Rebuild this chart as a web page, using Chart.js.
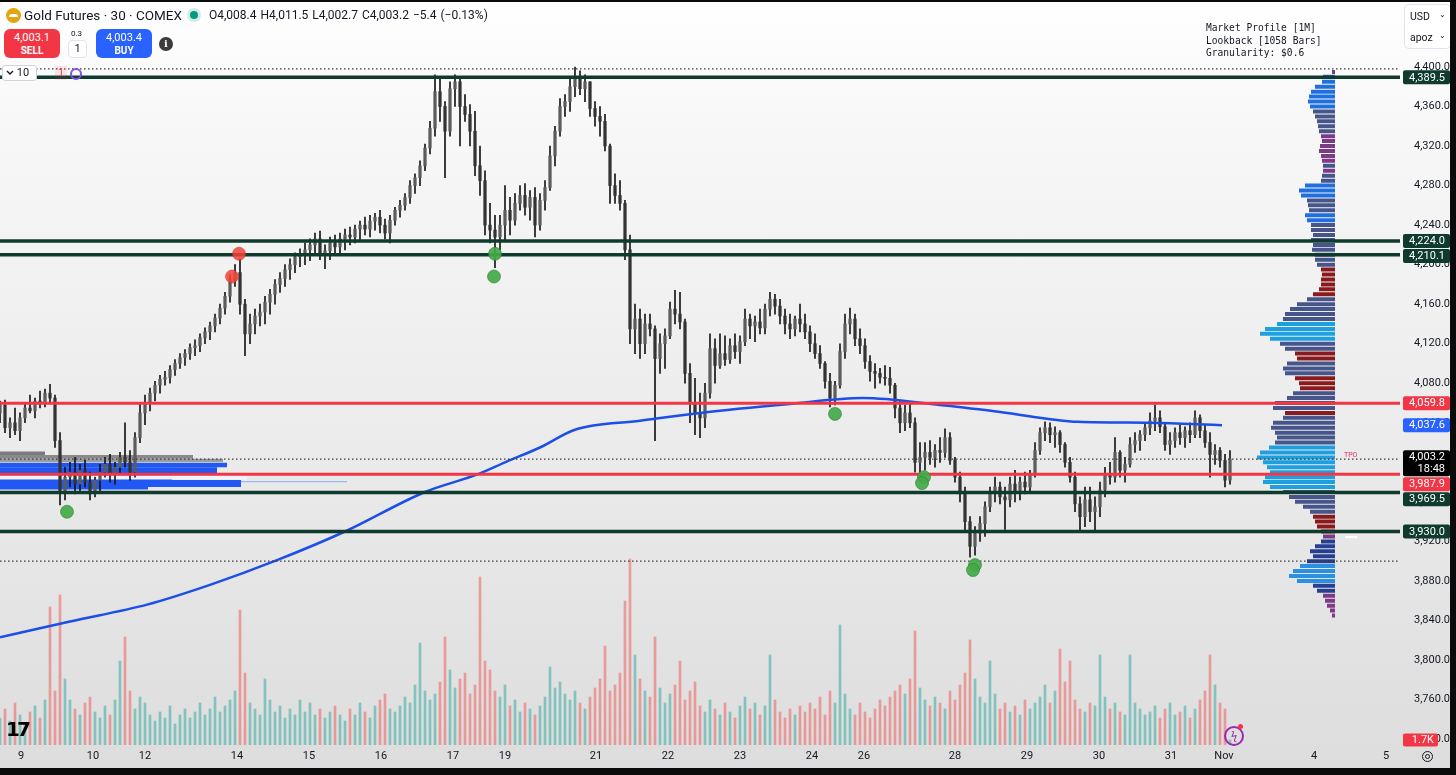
<!DOCTYPE html>
<html>
<head>
<meta charset="utf-8">
<title>Gold Futures · 30 · COMEX</title>
<script src="https://cdn.jsdelivr.net/npm/chart.js@4.4.1/dist/chart.umd.min.js"></script>
<style>
html,body{margin:0;padding:0;width:1456px;height:775px;overflow:hidden;background:#0b0b0b;font-family:Roboto,"Noto Sans",Arial,sans-serif;color:#131722;}
#wrap{position:absolute;left:0;top:2px;width:1450px;height:766px;overflow:hidden;background:linear-gradient(180deg,#ffffff 0%,#f8f8f8 15%,#ececec 55%,#dddddd 100%);}
#chart{position:absolute;left:0;top:0;}
.a{position:absolute;white-space:nowrap;}
.btn{position:absolute;top:27px;width:56px;height:29px;border-radius:6px;color:#fff;text-align:center;font-size:11px;line-height:13px;padding-top:2px;box-sizing:border-box;}
.btn b{display:block;font-size:10px;font-weight:700;}
</style>
</head>
<body>
<div id="wrap">
<canvas id="chart" width="1450" height="766"></canvas>

<div class="a" style="left:6px;top:6px;width:15px;height:15px;border-radius:50%;background:#e3a512;"><div style="position:absolute;left:3px;top:6px;width:9px;height:3px;background:#fff;border-radius:3px 3px 0 0;"></div></div>
<div class="a" style="left:24px;top:5px;font-size:13.5px;">Gold Futures · 30 · COMEX</div>
<div class="a" style="left:190px;top:9px;width:8px;height:8px;border-radius:50%;background:#089981;box-shadow:0 0 0 3px rgba(8,153,129,0.18);"></div>
<div class="a" style="left:209px;top:6px;font-size:12px;word-spacing:1px;">O4,008.4 H4,011.5 L4,002.7 C4,003.2 −5.4 (−0.13%)</div>

<div class="btn" style="left:4px;background:#f23645;">4,003.1<b>SELL</b></div>
<div class="a" style="left:71px;top:27px;font-size:8px;">0.3</div>
<div class="a" style="left:68px;top:38px;width:19px;height:18px;border:1px solid #e0e3eb;border-radius:4px;box-sizing:border-box;font-size:11px;text-align:center;line-height:16px;background:#fff;">1</div>
<div class="btn" style="left:96px;background:#2962ff;">4,003.4<b>BUY</b></div>
<div class="a" style="left:159px;top:35px;width:14px;height:14px;border-radius:50%;background:#3b3b3b;color:#fff;font:bold 10px 'DejaVu Serif',serif;text-align:center;line-height:14px;">i</div>

<div class="a" style="left:2px;top:63px;width:35px;height:16px;background:#fff;border:1px solid #d1d4dc;border-radius:3px;box-sizing:border-box;font-size:11px;line-height:14px;padding-left:3px;"><svg width="8" height="6" style="vertical-align:middle"><path d="M1 1 L4 4 L7 1" stroke="#131722" stroke-width="1.4" fill="none"/></svg> 10</div>
<div class="a" style="left:55px;top:64px;width:12px;height:14px;background:rgba(242,54,69,0.12);color:#f23645;font-size:10px;text-align:center;line-height:14px;">1</div>
<div class="a" style="left:70px;top:66px;width:8px;height:8px;border:2px solid #7b52e8;border-radius:50%;"></div>

<div class="a" style="left:1206px;top:20px;font:9.6px 'DejaVu Sans Mono',monospace;line-height:12.5px;white-space:pre;">Market Profile [1M]
Lookback [1058 Bars]
Granularity: $0.6</div>
<div class="a" style="left:1405px;top:3px;width:45px;height:43px;background:#fff;border-radius:4px;box-shadow:0 0 0 1px #e0e3eb;font-size:10.5px;">
  <div class="a" style="left:5px;top:5px;">USD</div><div class="a" style="left:34px;top:5px;font-size:8px;">⌄</div>
  <div class="a" style="left:5px;top:26px;">apoz</div><div class="a" style="left:34px;top:26px;font-size:8px;">⌄</div>
</div>

<div class="a" style="left:1344px;top:449px;font-size:7px;color:#e91e63;">TPO</div>
<div class="a" style="left:1345px;top:534px;width:12px;height:2px;background:#fff;"></div>

<div class="a" style="left:6px;top:715px;font:900 20px 'DejaVu Sans',sans-serif;letter-spacing:-3px;color:#000;">17</div>
<div class="a" style="left:1224px;top:724px;width:16px;height:16px;border:2px solid #9c27b0;border-radius:50%;color:#9c27b0;font-size:11px;text-align:center;line-height:16px;">ϟ</div>
<div class="a" style="left:1238px;top:722px;width:5px;height:5px;border-radius:50%;background:#f23645;"></div>
<div class="a" style="left:1422px;top:749px;width:9px;height:9px;border:1.6px solid #131722;border-radius:50%;"></div>
<div class="a" style="left:1425px;top:752px;width:3px;height:3px;border:1.4px solid #131722;border-radius:50%;"></div>
</div>

<script>
// ---------- DATA ----------
const xTickPos = [4.2, 18.6, 29, 47.4, 61.8, 76.2, 90.6, 101, 119.2, 133.6, 148, 162.4, 172.8, 191, 205.4, 219.8, 234.2, 244.8, 262.8, 277.2];
const xTickLabels = ['9','10','12','14','15','16','17','19','21','22','23','24','26','28','29','30','31','Nov','4','5'];
const yTickValues = [3720,3760,3800,3840,3880,3920,3960,4000,4040,4080,4120,4160,4200,4240,4280,4320,4360,4400];

const opens = [4050,
4058,4035,4040,4032,4045,4055,4052,4062,4060,4070,
4065,4022,3970,3985,3990,3978,3992,3980,3968,3982,
3990,3998,3988,3995,4005,4000,3990,4025,4050,4060,
4070,4078,4084,4086,4094,4100,4106,4110,4116,4118,
4126,4132,4138,4146,4156,4168,4185,4192,4160,4130,
4140,4148,4152,4162,4170,4180,4186,4195,4200,4208,
4210,4215,4220,4226,4210,4214,4222,4218,4226,4230,
4228,4236,4240,4236,4244,4248,4240,4232,4245,4255,
4260,4268,4280,4288,4300,4318,4338,4375,4360,4335,
4378,4385,4360,4352,4335,4300,4285,4240,4235,4228,
4240,4255,4245,4262,4270,4258,4268,4240,4265,4278,
4310,4335,4360,4365,4380,4390,4378,4385,4358,4350,
4345,4320,4280,4270,4262,4215,4135,4145,4120,4140,
4135,4105,4120,4128,4155,4150,4142,4090,4060,4050,
4045,4070,4115,4098,4110,4104,4118,4112,4122,4145,
4138,4142,4136,4155,4165,4158,4148,4140,4135,4145,
4140,4132,4120,4110,4100,4082,4065,4078,4112,4140,
4145,4125,4118,4102,4092,4090,4086,4085,4078,4055,
4040,4050,4040,4000,4005,4010,4005,4012,4010,4025,
4002,3985,3968,3940,3915,3928,3938,3955,3968,3975,
3965,3962,3978,3970,3980,3975,3988,4012,4030,4035,
4028,4030,4018,4000,3985,3958,3945,3962,3950,3955,
3972,3988,3985,4010,3992,3998,4018,4022,4028,4035,
4042,4045,4036,4018,4022,4030,4025,4032,4028,4045,
4032,4020,4008,4012,4002,3982];

const highs = [4062,4063,4045,4055,4050,4060,4068,4065,4072,4074,
4079,4068,4030,3995,4000,4005,3998,4002,3990,3985,
3998,4005,4008,4000,4010,4040,4012,4030,4060,4068,
4075,4082,4088,4092,4098,4104,4110,4114,4120,4124,
4130,4136,4142,4150,4160,4172,4190,4200,4206,4165,
4150,4155,4160,4168,4175,4185,4192,4200,4206,4212,
4216,4222,4226,4232,4234,4220,4228,4230,4232,4236,
4238,4240,4244,4248,4250,4252,4255,4246,4250,4258,
4265,4272,4285,4292,4305,4322,4345,4392,4390,4365,
4385,4392,4390,4372,4362,4355,4320,4295,4262,4250,
4250,4280,4268,4272,4280,4282,4275,4278,4272,4285,
4320,4340,4368,4372,4388,4400,4396,4392,4385,4365,
4360,4352,4322,4292,4285,4265,4230,4160,4155,4150,
4150,4138,4130,4135,4162,4174,4172,4145,4100,4085,
4070,4080,4130,4125,4130,4128,4125,4130,4128,4155,
4150,4148,4155,4160,4172,4170,4165,4155,4150,4148,
4160,4150,4138,4130,4118,4102,4090,4082,4120,4150,
4156,4150,4135,4125,4108,4100,4095,4098,4096,4080,
4062,4058,4060,4045,4020,4020,4022,4018,4025,4034,
4030,4005,3990,3975,3945,3935,3945,3960,3975,3985,
3980,3975,3985,3992,3985,3990,3992,4020,4035,4041,
4040,4036,4032,4020,4005,3990,3965,3975,3975,3965,
3980,3995,4000,4025,4012,4005,4025,4030,4032,4040,
4050,4058,4052,4040,4030,4035,4038,4036,4040,4052,
4048,4038,4030,4018,4015,4008,4012];

const lows = [4040,4030,4025,4028,4022,4040,4050,4045,4055,4056,
4060,4015,3957,3962,3975,3968,3970,3975,3962,3965,
3970,3985,3980,3978,3988,3995,3982,3985,4020,4038,
4052,4062,4070,4078,4080,4088,4095,4098,4104,4108,
4112,4120,4124,4132,4140,4150,4162,4178,4150,4108,
4120,4130,4138,4140,4150,4160,4172,4178,4185,4192,
4198,4200,4204,4210,4205,4196,4205,4210,4212,4215,
4220,4222,4225,4230,4228,4235,4232,4226,4222,4240,
4248,4255,4262,4272,4280,4295,4312,4330,4345,4288,
4330,4360,4320,4345,4320,4290,4270,4230,4222,4197,
4215,4225,4230,4240,4255,4250,4245,4228,4235,4255,
4275,4300,4330,4350,4355,4370,4372,4365,4350,4340,
4330,4315,4262,4262,4255,4205,4120,4110,4105,4110,
4128,4022,4090,4095,4125,4140,4135,4080,4040,4028,
4025,4035,4065,4080,4095,4098,4100,4105,4100,4118,
4125,4122,4130,4130,4148,4150,4140,4130,4125,4128,
4132,4125,4112,4105,4095,4075,4056,4058,4075,4105,
4130,4118,4110,4095,4082,4075,4080,4078,4070,4045,
4030,4032,4035,3990,3985,3992,3998,3995,4000,4005,
3998,3980,3960,3930,3904,3906,3920,3925,3950,3960,
3958,3932,3955,3960,3962,3968,3970,3985,4008,4022,
4020,4015,4010,3995,3980,3950,3930,3935,3940,3930,
3945,3965,3978,3980,3985,3980,3995,4010,4012,4022,
4028,4032,4030,4012,4008,4015,4018,4015,4020,4025,
4025,4015,3985,3998,3995,3975,3978];

const closes = [4058,4035,4040,4032,4045,4055,4052,4062,4060,4070,
4065,4022,3970,3985,3990,3978,3992,3980,3968,3982,
3990,3998,3988,3995,4005,4000,3990,4025,4050,4060,
4070,4078,4084,4086,4094,4100,4106,4110,4116,4118,
4126,4132,4138,4146,4156,4168,4185,4192,4160,4130,
4140,4148,4152,4162,4170,4180,4186,4195,4200,4208,
4210,4215,4220,4226,4210,4214,4222,4218,4226,4230,
4228,4236,4240,4236,4244,4248,4240,4232,4245,4255,
4260,4268,4280,4288,4300,4318,4338,4375,4360,4335,
4378,4385,4360,4352,4335,4300,4285,4240,4235,4228,
4240,4255,4245,4262,4270,4258,4268,4240,4265,4278,
4310,4335,4360,4365,4380,4390,4378,4385,4358,4350,
4345,4320,4280,4270,4262,4215,4135,4145,4120,4140,
4135,4105,4120,4128,4155,4150,4142,4090,4060,4050,
4045,4070,4115,4098,4110,4104,4118,4112,4122,4145,
4138,4142,4136,4155,4165,4158,4148,4140,4135,4145,
4140,4132,4120,4110,4100,4082,4065,4078,4112,4140,
4145,4125,4118,4102,4092,4090,4086,4085,4078,4055,
4040,4050,4040,4000,4005,4010,4005,4012,4010,4025,
4002,3985,3968,3940,3915,3928,3938,3955,3968,3975,
3965,3962,3978,3970,3980,3975,3988,4012,4030,4035,
4028,4030,4018,4000,3985,3958,3945,3962,3950,3955,
3972,3988,3985,4010,3992,3998,4018,4022,4028,4035,
4042,4045,4036,4018,4022,4030,4025,4032,4028,4045,
4032,4020,4008,4012,4002,3982,4003.2];

// volume in thousands
const volumes = [9,12,8,14,10,7,11,13,9,15,
46,18,50,22,15,12,10,14,16,11,
9,13,10,15,28,36,18,12,16,14,
10,8,11,9,13,7,10,12,9,11,
14,10,12,16,11,13,15,18,45,24,
14,12,10,22,15,11,13,9,12,10,
15,11,14,10,12,9,11,13,10,8,
12,10,14,11,9,13,15,17,12,11,
13,16,14,20,34,18,15,17,21,36,
25,19,22,24,17,20,56,28,25,18,
16,20,13,15,11,14,12,10,13,16,
26,19,21,17,15,18,14,12,16,19,
22,33,18,20,24,48,62,30,22,18,
16,36,19,14,17,20,28,15,18,21,
13,11,15,12,10,14,11,9,13,16,
12,14,10,13,30,15,11,9,12,10,
13,11,14,12,16,10,18,14,40,17,
12,10,14,11,9,12,15,13,16,18,
20,17,22,38,19,15,13,16,14,12,
18,15,20,24,35,22,16,14,28,17,
12,14,11,13,10,15,12,14,16,20,
14,18,32,21,28,15,12,11,14,13,
30,16,12,14,11,10,30,14,12,10,
11,13,9,12,14,10,11,13,9,12,
15,18,30,20,14,12,1.7];

// anchored VWAP (bar position, price)
const vwapX = [0, 14, 29.4, 42, 55.4, 69, 85, 95.6, 101, 108, 115, 128, 140, 158, 172.6, 188, 200, 215.6, 230, 244.4];
const vwapY = [3823, 3839, 3856, 3876, 3901, 3930, 3970, 3988, 4000, 4015, 4033, 4042, 4050, 4059, 4065, 4058, 4051, 4041, 4040, 4037.6];

// horizontal levels
const greenLevels = [4389.5, 4224.0, 4210.1, 3969.5, 3930.0];
const redLevels = [4059.8, 3987.9];
const dottedLevels = [4398, 4003.2, 3900];

// signal dots
const greenDotX = [13.4, 99, 98.8, 167, 184.8, 184.4, 195, 194.6];
const greenDotY = [3950, 4211, 4188, 4049, 3985, 3979, 3896, 3891];
const redDotX = [46.4, 47.8];
const redDotY = [4188, 4211];

// market profile (right): price rows, TPO counts, colour keys
const profilePrices = [4395,4390,4385,4380,4375,4370,4365,4360,4355,4350,
4345,4340,4335,4330,4325,4320,4315,4310,4305,4300,
4295,4290,4285,4280,4275,4270,4265,4260,4255,4250,
4245,4240,4235,4230,4225,4220,4215,4210,4205,4200,
4195,4190,4185,4180,4175,4170,4165,4160,4155,4150,
4145,4140,4135,4130,4125,4120,4115,4110,4105,4100,
4095,4090,4085,4080,4075,4070,4065,4060,4055,4050,
4045,4040,4035,4030,4025,4020,4015,4010,4005,4000,
3995,3990,3985,3980,3975,3970,3965,3960,3955,3950,
3945,3940,3935,3930,3925,3920,3915,3910,3905,3900,
3895,3890,3885,3880,3875,3870,3865,3860,3855,3850,
3845];
const profileCounts = [3,12,13,20,24,26,27,25,22,20,
18,17,16,14,13,15,16,14,13,12,
12,13,14,30,36,34,28,27,26,30,
28,24,24,22,24,22,23,20,20,18,
14,13,14,14,16,22,28,38,45,50,
52,58,70,75,65,55,50,40,38,48,
52,50,40,36,35,42,48,60,62,50,
52,62,64,60,58,60,66,75,78,72,
68,65,70,72,65,52,46,40,32,25,
22,20,18,14,12,14,20,25,22,28,
35,42,46,38,22,18,12,10,8,5,
3];
const profileKeys = "PBBBBBBBSSSSSPPPPPPSPSSBBBSSSBBSSSSSSSSSRRRRRRSSSSSTTTTSSRRSSSRRRSSSSRSSSSSSTTTTTTTTTSSSSSRRRRPDDDDDLLLLDDPPPPP";

// visible-range volume profile (left): band top, band bottom, extent (bars)
const lpTop    = [4011, 4007.5, 4003.5, 3986.5, 3999.5, 3995, 3986.5, 3982, 3981.2, 3975];
const lpBottom = [4007.5, 4003.5, 4000.3, 3982.5, 3995, 3989, 3982, 3975, 3979.8, 3972.5];
const lpExtent = [9, 38.6, 44.6, 49.4, 45.4, 43.4, 34.4, 48.2, 69.4, 29.6];
const lpKeys   = ['g1','g2','g3','w','b','b','b','b','lb','b'];

// price-axis labels
const boxValues = [4389.5, 4224.0, 4210.1, 4059.8, 4037.6, 4003.2, 3987.9, 3969.5, 3930.0];
const boxKeys   = ['g','g','g','r','bl','k','r','g','g'];
const boxSub    = ['','','','','','18:48','','',''];
const lastVolume = 1.7;

// ---------- STYLE ----------
const profileColors = {B:'#1f6fe0', S:'#46568a', T:'#1e9fdf', R:'#8b1a1e', P:'#7d3a86', D:'#263f90', L:'#2b8fe2'};
const lpColors = {g1:'#7b7b7b', g2:'#8a8a8a', g3:'#9c9c9c', w:'#f1f4fc', b:'#2157f2', lb:'#9db6f4'};
const boxColors = {g:'#0e3b2e', r:'#f23645', bl:'#2962ff', k:'#000000'};
const PROFILE_RIGHT = 267, PROFILE_SCALE = 0.2;

const fmt = v => Number(v).toLocaleString('en-US', {minimumFractionDigits:1, maximumFractionDigits:1});

// ---------- DATASETS ----------
const idx = closes.map((_, i) => i);
const volColors = idx.map(i => closes[i] >= opens[i] ? 'rgba(38,166,154,0.5)' : 'rgba(239,83,80,0.5)');

const datasets = [];

datasets.push({type:'bar', label:'Volume', yAxisID:'yv', order:9, grouped:false, barThickness:2,
  data: idx.map(i => ({x:i, y:volumes[i]})), backgroundColor: volColors});

datasets.push({type:'bar', label:'Wicks', yAxisID:'y', order:4, grouped:false, barThickness:1,
  data: idx.map(i => ({x:i, y:[lows[i], highs[i]]})), backgroundColor:'#161616'});
datasets.push({type:'bar', label:'Bodies', yAxisID:'y', order:3, grouped:false, barThickness:2.6, minBarLength:1,
  data: idx.map(i => ({x:i, y:[opens[i], closes[i]]})), backgroundColor: idx.map(i => closes[i] >= opens[i] ? '#5c5c5c' : '#333333')});

// right market profile, grouped by colour
Object.keys(profileColors).forEach(k => {
  const pts = [];
  profilePrices.forEach((p, r) => {
    if (profileKeys[r] !== k) return;
    pts.push({x: PROFILE_RIGHT - profileCounts[r] * PROFILE_SCALE, y: p});
    pts.push({x: PROFILE_RIGHT, y: p});
    pts.push({x: PROFILE_RIGHT, y: null});
  });
  datasets.push({type:'line', yAxisID:'y', order:6, data:pts, borderColor:profileColors[k], borderWidth:4,
    borderCapStyle:'butt', pointRadius:0, spanGaps:false, fill:false});
});

// left volume profile bands
lpTop.forEach((t, i) => {
  const b = lpBottom[i], e = lpExtent[i];
  datasets.push({type:'line', yAxisID:'y', order:7,
    data:[{x:0,y:t},{x:e,y:t},{x:e,y:b},{x:0,y:b}],
    borderWidth:0, pointRadius:0, fill:'shape', backgroundColor:lpColors[lpKeys[i]], borderColor:'rgba(0,0,0,0)'});
});

// level lines
greenLevels.forEach(v => datasets.push({type:'line', yAxisID:'y', order:1, data:[{x:0,y:v},{x:280,y:v}],
  borderColor:'#0e3b2e', borderWidth:3.5, pointRadius:0}));
redLevels.forEach(v => datasets.push({type:'line', yAxisID:'y', order:1, data:[{x:0,y:v},{x:280,y:v}],
  borderColor:'#f23645', borderWidth:3, pointRadius:0}));
dottedLevels.forEach(v => datasets.push({type:'line', yAxisID:'y', order:2, data:[{x:0,y:v},{x:280,y:v}],
  borderColor:'#3a3a3a', borderWidth:1.2, borderDash:[1.5,2.5], pointRadius:0}));

// VWAP
datasets.push({type:'line', yAxisID:'y', order:2, data: vwapX.map((x,i) => ({x, y:vwapY[i]})),
  borderColor:'#1c4fe8', borderWidth:2.5, pointRadius:0, cubicInterpolationMode:'monotone'});

// dots
datasets.push({type:'line', yAxisID:'y', order:0, showLine:false, data: greenDotX.map((x,i) => ({x, y:greenDotY[i]})),
  pointRadius:6.5, pointBackgroundColor:'rgba(67,170,72,0.92)', pointBorderColor:'rgba(46,125,50,0.6)', pointBorderWidth:1});
datasets.push({type:'line', yAxisID:'y', order:0, showLine:false, data: redDotX.map((x,i) => ({x, y:redDotY[i]})),
  pointRadius:6.5, pointBackgroundColor:'rgba(244,67,54,0.85)', pointBorderColor:'rgba(200,40,40,0.5)', pointBorderWidth:1});

// ---------- PLUGIN: price-axis labels ----------
function rr(ctx, x, y, w, h, r) {
  ctx.beginPath(); ctx.moveTo(x + r, y); ctx.lineTo(x + w - r, y); ctx.quadraticCurveTo(x + w, y, x + w, y + r);
  ctx.lineTo(x + w, y + h - r); ctx.quadraticCurveTo(x + w, y + h, x + w - r, y + h); ctx.lineTo(x + r, y + h);
  ctx.quadraticCurveTo(x, y + h, x, y + h - r); ctx.lineTo(x, y + r); ctx.quadraticCurveTo(x, y, x + r, y); ctx.closePath();
}
const axisBoxes = {
  id:'axisBoxes',
  afterDraw(chart) {
    const ctx = chart.ctx, ys = chart.scales.y, yv = chart.scales.yv;
    const x0 = chart.chartArea.right + 3, x1 = chart.width;
    const items = boxValues.map((v, i) => ({v, i, py: ys.getPixelForValue(v)})).sort((a, b) => a.py - b.py);
    let prev = -1e9;
    ctx.save();
    ctx.font = '11px Roboto';
    ctx.textAlign = 'right';
    ctx.textBaseline = 'middle';
    items.forEach(it => {
      const two = boxSub[it.i] !== '';
      const h = two ? 26 : 14;
      let top = it.py - (two ? 9 : 7);
      if (top < prev) top = prev;
      ctx.fillStyle = boxColors[boxKeys[it.i]];
      rr(ctx, x0, top, x1 - x0, h, 2); ctx.fill();
      ctx.fillStyle = '#fff';
      ctx.fillText(fmt(it.v), x1 - 5, top + 7.5);
      if (two) ctx.fillText(boxSub[it.i], x1 - 5, top + 19.5);
      prev = top + h + 1;
    });
    const vy = yv.getPixelForValue(lastVolume);
    ctx.fillStyle = '#f23645';
    rr(ctx, x0, vy - 6.5, 35, 13, 2); ctx.fill();
    ctx.fillStyle = '#fff';
    ctx.fillText(lastVolume + 'K', x0 + 31, vy);
    ctx.restore();
  }
};

// ---------- CHART ----------
Chart.defaults.font.family = 'Roboto';
new Chart(document.getElementById('chart'), {
  type:'bar',
  data:{datasets},
  plugins:[axisBoxes],
  options:{
    responsive:false, animation:false, events:[],
    layout:{autoPadding:false, padding:{top:62, left:0, right:0, bottom:0}},
    plugins:{legend:{display:false}, tooltip:{enabled:false}},
    scales:{
      x:{type:'linear', min:0, max:280, offset:false,
        grid:{display:false, drawTicks:false}, border:{display:false},
        afterBuildTicks: s => { s.ticks = xTickPos.map(v => ({value:v})); },
        afterFit: s => { s.height = 23; },
        ticks:{autoSkip:false, maxRotation:0, padding:5, color:'#131722', font:{size:11},
          callback:(v, i) => xTickLabels[i]}},
      y:{type:'linear', position:'right', min:3714, max:4403,
        grid:{display:false, drawTicks:false}, border:{display:false},
        afterBuildTicks: s => { s.ticks = yTickValues.map(v => ({value:v})); },
        afterFit: s => { s.width = 50; },
        ticks:{crossAlign:'far', padding:8, color:'#131722', font:{size:11}, callback: v => fmt(v)}},
      yv:{type:'linear', display:false, min:0, max:227}
    }
  }
});
</script>
</body>
</html>
